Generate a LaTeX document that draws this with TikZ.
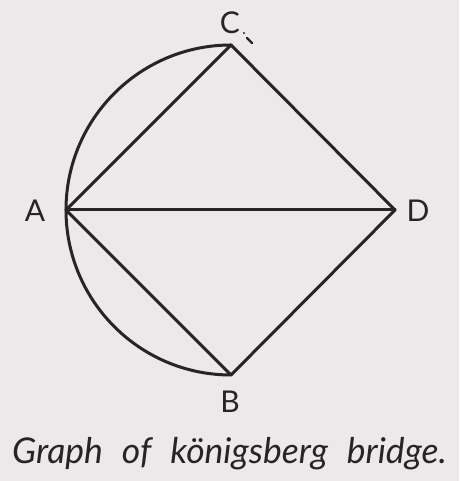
\documentclass[tikz,border=0pt]{standalone}
\usepackage{fontspec}
\setmainfont{Lato}
\definecolor{paper}{RGB}{236,233,235}
\definecolor{ink}{RGB}{38,36,38}
\begin{document}
\begin{tikzpicture}[x=1pt,y=1pt,
  edge/.style={draw=ink,line width=3pt,line join=round,line cap=round},
  vlabel/.style={text=ink,font=\fontsize{30}{32}\selectfont,inner sep=0pt},
  caption/.style={text=ink,font=\itshape\fontsize{35.5}{38}\selectfont,inner sep=0pt,anchor=base west}]
\fill[paper] (0,0) rectangle (459,481);
\useasboundingbox (0,0) rectangle (459,481);
\coordinate (A) at (66,271);
\coordinate (C) at (231,436);
\coordinate (D) at (395,271);
\coordinate (B) at (231,106);
\draw[edge] (C) arc[start angle=90,end angle=270,radius=165pt];
\draw[edge] (A) -- (C);
\draw[edge] (A) -- (D);
\draw[edge] (A) -- (B);
\draw[edge] (C) -- (D);
\draw[edge] (B) -- (D);
\node[vlabel] (la) at (35,270) {A};
\node[vlabel] (lc) at (230,458) {C};
\node[vlabel] (ld) at (418,270) {D};
\node[vlabel] (lb) at (230,79) {B};
\fill[ink] (244,448) circle (1.2pt);
\draw[ink,line width=2.4pt,line cap=round] (247,443) -- (252,438);
\node[caption] (cap) at (12,17) {Graph\hspace{19pt}of\hspace{19pt}königsberg\hspace{19pt}bridge.};
\end{tikzpicture}
\end{document}
